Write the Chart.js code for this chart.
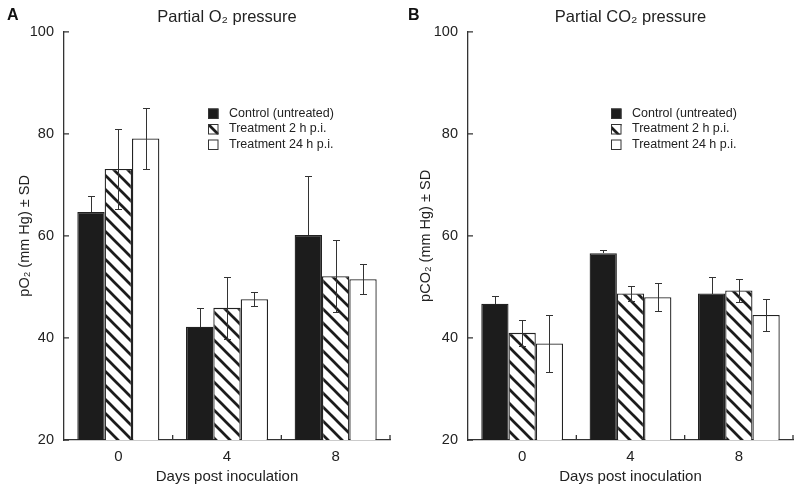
<!DOCTYPE html>
<html>
<head>
<meta charset="utf-8">
<script src="https://cdn.jsdelivr.net/npm/chart.js@4.4.1/dist/chart.umd.min.js"></script>
<style>
    body { margin: 0; background: #fff; }
    #wrap { position: relative; width: 800px; height: 489px; }
    canvas { position: absolute; top: 0; }
    #chartA { left: 0; }
    #chartB { left: 400px; }
</style>
</head>
<body>
<div id="wrap">
    <canvas id="chartA" width="400" height="489"></canvas>
    <canvas id="chartB" width="400" height="489"></canvas>
</div>
<script>
const days = ["0", "4", "8"];
const seriesNames = ["Control (untreated)", "Treatment 2 h p.i.", "Treatment 24 h p.i."];
const yMin = 20, yMax = 100, yStep = 20;

// panel A - pO2
const o2Control = [64.7, 42.2, 60.2];
const o2ControlSd = [3.2, 3.6, 11.5];
const o2Treat2h = [73.1, 45.9, 52.1];
const o2Treat2hSd = [7.8, 6.1, 7.0];
const o2Treat24h = [79.1, 47.6, 51.5];
const o2Treat24hSd = [6.0, 1.4, 2.9];

// panel B - pCO2
const co2Control = [46.7, 56.6, 48.7];
const co2ControlSd = [1.5, 0.7, 3.3];
const co2Treat2h = [41.0, 48.7, 49.3];
const co2Treat2hSd = [2.6, 1.4, 2.3];
const co2Treat24h = [38.9, 48.0, 44.5];
const co2Treat24hSd = [5.5, 2.8, 3.1];

Chart.defaults.font.family = "'Liberation Sans', Arial, sans-serif";
Chart.defaults.color = "#222";

const darkFill = "#1c1c1c";

function hatch() {
    const s = 14;
    const c = document.createElement("canvas");
    c.width = s; c.height = s;
    const g = c.getContext("2d");
    g.fillStyle = "#fff";
    g.fillRect(0, 0, s, s);
    g.strokeStyle = darkFill;
    g.lineWidth = 2.7;
    [-s, 0, s].forEach(o => {
        g.beginPath();
        g.moveTo(o - 2, -2);
        g.lineTo(o + s + 2, s + 2);
        g.stroke();
    });
    return g.createPattern(c, "repeat");
}

const fills = [darkFill, hatch(), "#ffffff"];

const decorations = {
    id: "decorations",
    afterDatasetsDraw(chart) {
        const ctx = chart.ctx;
        const y = chart.scales.y;
        ctx.save();
        ctx.strokeStyle = "#333";
        ctx.lineWidth = 1;
        chart.data.datasets.forEach((ds, i) => {
            // lower whisker of the solid black bars is hidden in the bar itself
            const showLower = ds.backgroundColor !== darkFill;
            chart.getDatasetMeta(i).data.forEach((bar, j) => {
                const hi = Math.round(y.getPixelForValue(ds.data[j] + ds.sd[j])) + 0.5;
                const lo = Math.round(y.getPixelForValue(ds.data[j] - ds.sd[j])) + 0.5;
                const top = Math.round(bar.y);
                const bx = Math.round(bar.x) + 0.5;
                ctx.beginPath();
                ctx.moveTo(bx, hi); ctx.lineTo(bx, showLower ? lo : top);
                ctx.moveTo(bx - 3.5, hi); ctx.lineTo(bx + 3.5, hi);
                if (showLower) {
                    ctx.moveTo(bx - 3.5, lo); ctx.lineTo(bx + 3.5, lo);
                }
                ctx.stroke();
            });
        });
        ctx.restore();
    },
    afterDraw(chart, args, opts) {
        const ctx = chart.ctx;
        const area = chart.chartArea;
        const y = chart.scales.y;
        ctx.save();
        // inward tick marks
        ctx.strokeStyle = "#333";
        ctx.lineWidth = 1.3;
        ctx.beginPath();
        y.ticks.forEach(t => {
            const py = y.getPixelForValue(t.value);
            ctx.moveTo(area.left, py); ctx.lineTo(area.left + 5, py);
        });
        const n = chart.data.labels.length;
        for (let i = 1; i <= n; i++) {
            const px = area.left + i * (area.right - area.left) / n;
            ctx.moveTo(px, area.bottom); ctx.lineTo(px, area.bottom - 5);
        }
        ctx.stroke();

        // legend
        const lx = area.right - 182;
        ctx.font = "12.5px 'Liberation Sans', Arial, sans-serif";
        ctx.textBaseline = "middle";
        ctx.lineWidth = 1;
        chart.data.datasets.forEach((ds, i) => {
            const ry = 113.5 + i * 15.5;
            ctx.fillStyle = ds.backgroundColor;
            ctx.fillRect(lx, ry - 5, 10.5, 10.5);
            ctx.strokeStyle = "#333";
            ctx.strokeRect(lx + 0.5, ry - 4.5, 9.5, 9.5);
            ctx.fillStyle = "#222";
            ctx.fillText(ds.label, lx + 21, ry);
        });

        // panel letter
        ctx.font = "bold 16px 'Liberation Sans', Arial, sans-serif";
        ctx.textBaseline = "alphabetic";
        ctx.fillStyle = "#111";
        ctx.fillText(opts.letter, opts.letterX, 20);
        ctx.restore();
    }
};

function makePanel(id, letter, title, yTitle, values, sds, axisWidth, rightPad, yTitlePad) {
    const ctx = document.getElementById(id).getContext("2d");
    return new Chart(ctx, {
        type: "bar",
        data: {
            labels: days,
            datasets: seriesNames.map((name, i) => ({
                label: name,
                data: values[i],
                sd: sds[i],
                backgroundColor: fills[i],
                borderColor: "#222",
                borderWidth: 1.3,
                categoryPercentage: 0.755,
                barPercentage: 1.0
            }))
        },
        options: {
            responsive: false,
            animation: false,
            layout: { padding: { left: 0, right: rightPad, top: 0, bottom: 0 } },
            plugins: {
                legend: { display: false },
                tooltip: { enabled: false },
                title: {
                    display: true,
                    text: title,
                    fullSize: false,
                    color: "#222",
                    font: { size: 16.5, weight: "normal" },
                    padding: { top: 8, bottom: 4 }
                },
                decorations: { letter: letter, letterX: letter === "A" ? 7 : 8 }
            },
            scales: {
                x: {
                    grid: { display: false, drawTicks: false },
                    border: { display: true, color: "#333", width: 1.3 },
                    ticks: { font: { size: 15 }, padding: 8, color: "#222" },
                    title: {
                        display: true,
                        text: "Days post inoculation",
                        font: { size: 15 },
                        color: "#222",
                        padding: { top: 4, bottom: 3 }
                    },
                    afterFit: s => { s.height = 49; }
                },
                y: {
                    min: yMin,
                    max: yMax,
                    grid: { display: false, drawTicks: false },
                    border: { display: true, color: "#333", width: 1.3 },
                    ticks: { stepSize: yStep, font: { size: 14.5 }, padding: 10, color: "#222" },
                    title: {
                        display: true,
                        text: yTitle,
                        font: { size: 14.5 },
                        color: "#222",
                        padding: { top: yTitlePad, bottom: 0 }
                    },
                    afterFit: s => { s.width = axisWidth; }
                }
            }
        },
        plugins: [decorations]
    });
}

document.addEventListener("DOMContentLoaded", function () {
    makePanel("chartA", "A", "Partial O₂ pressure", "pO₂ (mm Hg) ± SD",
        [o2Control, o2Treat2h, o2Treat24h],
        [o2ControlSd, o2Treat2hSd, o2Treat24hSd], 64, 10, 16);
    makePanel("chartB", "B", "Partial CO₂ pressure", "pCO₂ (mm Hg) ± SD",
        [co2Control, co2Treat2h, co2Treat24h],
        [co2ControlSd, co2Treat2hSd, co2Treat24hSd], 68, 7, 17.5);
});
</script>
</body>
</html>
